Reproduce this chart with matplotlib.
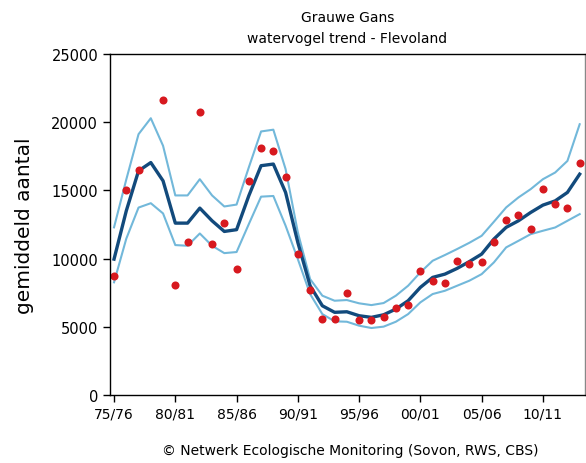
import numpy as np
import matplotlib.pyplot as plt

# seasons 75/76 .. 13/14
seasons = [f"{(75 + i) % 100:02d}/{(76 + i) % 100:02d}" for i in range(39)]
tick_labels = ["75/76", "80/81", "85/86", "90/91", "95/96", "00/01", "05/06", "10/11"]

# counted averages (no count in 78/79)
counts = [8720, 15000, 16490, np.nan, 21620, 8090, 11210, 20740, 11090, 12630,
          9210, 15710, 18100, 17860, 16000, 10340, 7720, 5600, 5600, 7480,
          5470, 5500, 5720, 6350, 6570, 9090, 8360, 8230, 9850, 9600,
          9720, 11210, 12830, 13220, 12200, 15100, 13980, 13730, 16980]

trend = [9960, 13500, 16430, 17040, 15700, 12600, 12600, 13700, 12770, 11990,
         12120, 14610, 16810, 16930, 14850, 11180, 8010, 6540, 6060, 6100,
         5810, 5690, 5880, 6300, 6910, 7890, 8620, 8860, 9280, 9780,
         10330, 11430, 12290, 12770, 13380, 13920, 14230, 14850, 16190]

upper = [12290, 15800, 19120, 20290, 18270, 14630, 14630, 15820, 14630, 13820,
         13960, 16690, 19320, 19450, 16560, 11920, 8500, 7280, 6910, 6960,
         6720, 6590, 6740, 7280, 8010, 8990, 9840, 10260, 10700, 11160,
         11670, 12700, 13750, 14480, 15090, 15820, 16310, 17160, 19850]

lower = [8260, 11460, 13740, 14060, 13310, 10990, 10940, 11840, 10940, 10400,
         10480, 12530, 14540, 14590, 12410, 9960, 7400, 5930, 5400, 5370,
         5080, 4910, 5010, 5370, 5930, 6790, 7400, 7640, 8010, 8380,
         8860, 9720, 10820, 11300, 11790, 12040, 12280, 12770, 13260]

x = np.arange(len(seasons))

fig = plt.figure(figsize=(5.86, 4.64), dpi=100)
ax = fig.add_axes([0.1877, 0.1466, 0.8103, 0.7349])

light = "#72b8da"
dark = "#124a7c"
ax.plot(x, upper, color=light, lw=1.5)
ax.plot(x, lower, color=light, lw=1.5)
ax.plot(x, trend, color=dark, lw=2.4)
ax.plot(x, counts, "o", color="#d7191f", ms=5.8, mec="none")

ax.set_xlim(-0.33, 38.42)
ax.set_ylim(0, 25000)
ax.set_xticks(np.arange(0, 36, 5))
ax.set_xticklabels(tick_labels)
ax.set_yticks(np.arange(0, 25001, 5000))
ax.tick_params(direction="out", length=5, width=1, labelsize=10.5, colors="black")
ax.tick_params(axis="x", labelsize=10)
ax.spines["right"].set_color("#888888")
for s in ax.spines.values():
    s.set_linewidth(1)

ax.set_ylabel("gemiddeld aantal", fontsize=14.5)
ax.yaxis.set_label_coords(-0.16, 0.5)
fig.text(0.593, 0.962, "Grauwe Gans", ha="center", va="center", fontsize=10)
fig.text(0.593, 0.915, "watervogel trend - Flevoland", ha="center", va="center", fontsize=10)
fig.text(0.598, 0.028, "\u00a9 Netwerk Ecologische Monitoring (Sovon, RWS, CBS)",
         ha="center", va="center", fontsize=10)

fig.savefig("out.png", dpi=100)
